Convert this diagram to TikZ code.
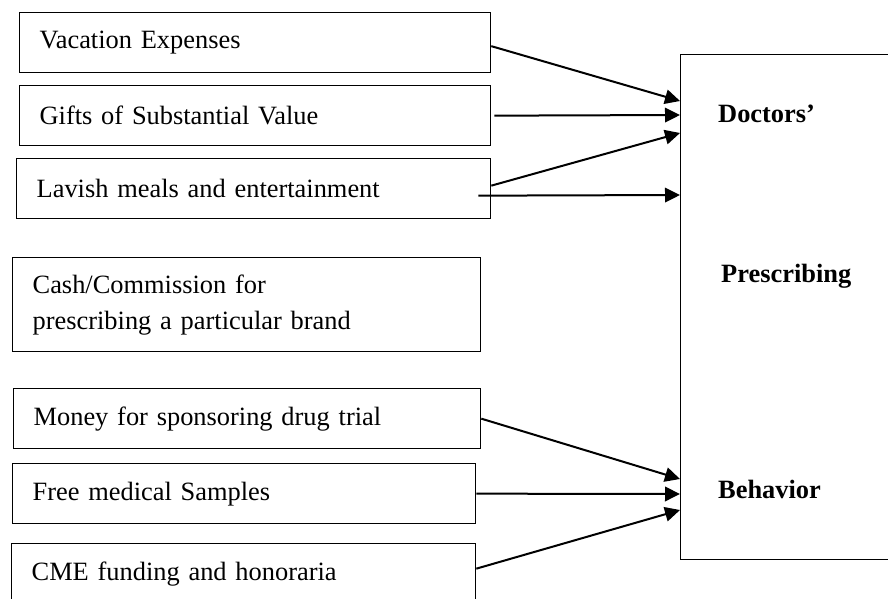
\documentclass[tikz,border=0pt]{standalone}
\usepackage{fontspec}
\setmainfont{Liberation Serif}
\usetikzlibrary{shapes,arrows.meta}
\tikzstyle{incentive} = [rectangle, draw, line width=1.3pt, anchor=north west,
    inner xsep=20pt, inner ysep=0pt, minimum height=60pt, align=left,
    font=\fontsize{26.4}{36}\selectfont]
\tikzstyle{outcome} = [rectangle, draw, line width=1.4pt, anchor=north west,
    minimum width=230pt, minimum height=505pt]
\tikzstyle{doctext} = [anchor=base west, inner sep=0pt,
    font=\fontsize{26.4}{32}\selectfont\bfseries]
\tikzstyle{line} = [draw, line width=2pt, -{Triangle[length=15pt,width=14.5pt]}]

\begin{document}
\begin{tikzpicture}[x=1pt, y=-1pt]
        \clip (0,0) rectangle (888,598);
        % Place nodes
        \node (vac) [incentive, text width=431pt] at (19,12) {Vacation Expenses};
        \node (gifts) [incentive, text width=431pt] at (19,85) {Gifts of Substantial Value};
        \node (lav) [incentive, text width=434pt] at (16,158) {Lavish meals and entertainment};
        \node (cash) [incentive, text width=428pt, minimum height=94pt] at (12,257)
            {Cash/Commission for\\prescribing a particular brand};
        \node (money) [incentive, text width=427pt] at (13,388) {Money for sponsoring drug trial};
        \node (free) [incentive, text width=423pt] at (12,463) {Free medical Samples};
        \node (cme) [incentive, text width=424pt] at (11,543) {CME funding and honoraria};

        %Doctors' box
        \node (doc) [outcome] at (680,54) {};
        \node (doctors) [doctext] at (718,122) {Doctors'};
        \node (prescr) [doctext] at (721,282) {Prescribing};
        \node (behav) [doctext] at (718,498) {Behavior};

        %Upper arrows
        \path [line] ([yshift=-3.5pt]vac.east) -- ([yshift=-47pt]doc.north west);
        \path [line] ([xshift=3pt]gifts.east) -- ([yshift=-61pt]doc.north west);
        \path [line] ([yshift=3pt]lav.east) -- ([yshift=-79pt]doc.north west);
        \path [line] ([xshift=-13pt,yshift=-7pt]lav.east) -- ([yshift=-141pt]doc.north west);

        %Lower arrows
        \path [line] (money.east) -- ([yshift=-425pt]doc.north west);
        \path [line] (free.east) -- ([yshift=-440pt]doc.north west);
        \path [line] ([yshift=5pt]cme.east) -- ([yshift=-456pt]doc.north west);
    \end{tikzpicture}
\end{document}
